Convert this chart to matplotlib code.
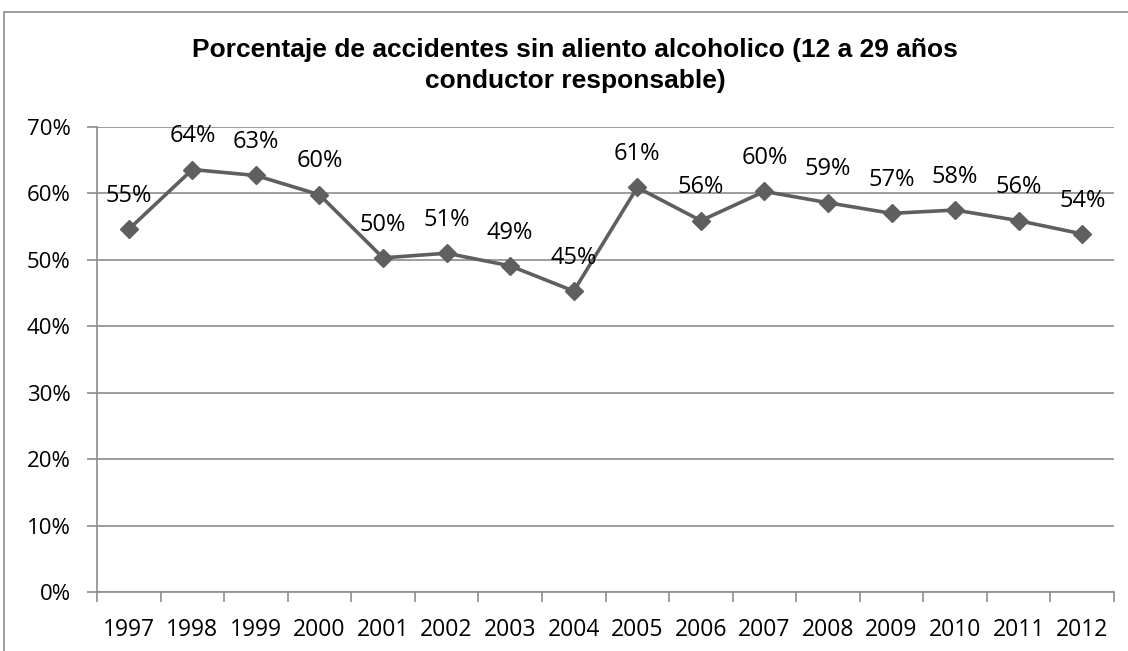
import numpy as np
import matplotlib.pyplot as plt
from matplotlib.patches import Rectangle

years = ['1997', '1998', '1999', '2000', '2001', '2002', '2003', '2004',
         '2005', '2006', '2007', '2008', '2009', '2010', '2011', '2012']
pct = [54.6, 63.6, 62.7, 59.8, 50.3, 51.0, 49.1, 45.3,
       60.9, 55.9, 60.3, 58.6, 57.0, 57.5, 55.9, 53.9]
title_lines = ['Porcentaje de accidentes sin aliento alcoholico (12 a 29 años',
               'conductor responsable)']

plt.rcParams['font.family'] = ['Open Sans', 'DejaVu Sans']

fig = plt.figure(figsize=(11.28, 6.51), dpi=100)
ax = fig.add_axes([97 / 1128, 1 - 592 / 651, (1114 - 97) / 1128, (592 - 127) / 651])

# borde del area del grafico
fig.patches.append(Rectangle((4 / 1128, -0.1), 1.2, 1 - 12 / 651 + 0.1,
                             transform=fig.transFigure, fill=False,
                             edgecolor='#8c8c8c', linewidth=1.2))

x = np.arange(len(years))
line_c = '#5f5f5f'
ax.plot(x, pct, color=line_c, linewidth=2.6, marker='D', markersize=9.5,
        markerfacecolor=line_c, markeredgecolor=line_c, zorder=3)
for xi, v in zip(x, pct):
    ax.annotate(f'{v:.0f}%', (xi, v), xytext=(0, 24), textcoords='offset points',
                ha='center', va='center', fontsize=17, color='black')

ax.set_xlim(-0.5, len(years) - 0.5)
ax.set_ylim(0, 70)
ax.set_yticks(range(0, 71, 10))
ax.set_yticklabels([f'{t}%' for t in range(0, 71, 10)], fontsize=16)
ax.set_xticks(x)
ax.set_xticklabels(years, fontsize=16.5)
ax.set_xticks(np.arange(-0.5, len(years), 1), minor=True)
ax.tick_params(axis='x', which='major', length=0, pad=19)
ax.tick_params(axis='x', which='minor', length=7, color='#8c8c8c', width=1.2)
ax.tick_params(axis='y', length=7, color='#8c8c8c', width=1.2, pad=12)
ax.grid(axis='y', color='#8c8c8c', linewidth=1.2)
ax.set_axisbelow(True)
for s in ['top', 'right']:
    ax.spines[s].set_visible(False)
for s in ['left', 'bottom']:
    ax.spines[s].set_color('#8c8c8c')
    ax.spines[s].set_linewidth(1.2)

for line, yb in zip(title_lines, [57, 88]):
    fig.text(575 / 1128, 1 - yb / 651, line, ha='center', va='baseline',
             fontsize=19, fontweight='bold', family='Liberation Sans')

fig.savefig('out.png', dpi=100)
